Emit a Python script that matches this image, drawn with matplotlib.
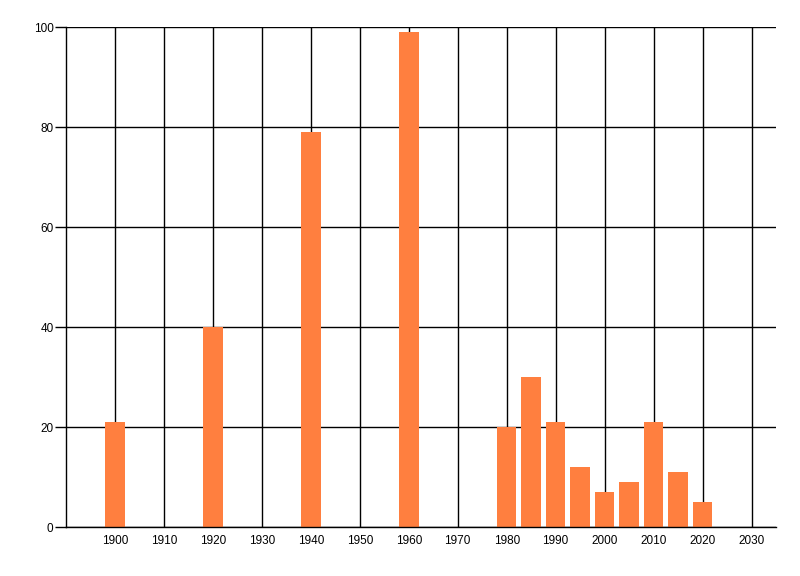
import matplotlib
matplotlib.use('Agg')
import matplotlib.pyplot as plt

plt.rcParams['font.family'] = ['Liberation Sans', 'DejaVu Sans']

# data
years = [1900, 1920, 1940, 1960, 1980, 1985, 1990, 1995, 2000, 2005, 2010, 2015, 2020]
values = [21, 40, 79, 99, 20, 30, 21, 12, 7, 9, 21, 11, 5]
x_ticks = list(range(1900, 2031, 10))
y_ticks = [0, 20, 40, 60, 80, 100]

fig = plt.figure(figsize=(8, 5.76), dpi=100)
ax = fig.add_axes([0.0825, 0.085, 0.8875, 0.868])

ax.set_axisbelow(True)
ax.bar(years, values, width=4, color='#FF7F3F', zorder=2)

ax.set_xlim(1890, 2035)
ax.set_ylim(0, 100)
ax.set_xticks(x_ticks)
ax.set_yticks(y_ticks)
ax.grid(True, color='black', linewidth=1)

for side in ['top', 'right']:
    ax.spines[side].set_visible(False)
for side in ['left', 'bottom']:
    ax.spines[side].set_linewidth(1)

ax.tick_params(axis='x', length=0, pad=6, labelsize=8.5)
ax.tick_params(axis='y', length=8, width=1, pad=1, labelsize=8.5)

plt.savefig('out.png', dpi=100)
plt.close()
